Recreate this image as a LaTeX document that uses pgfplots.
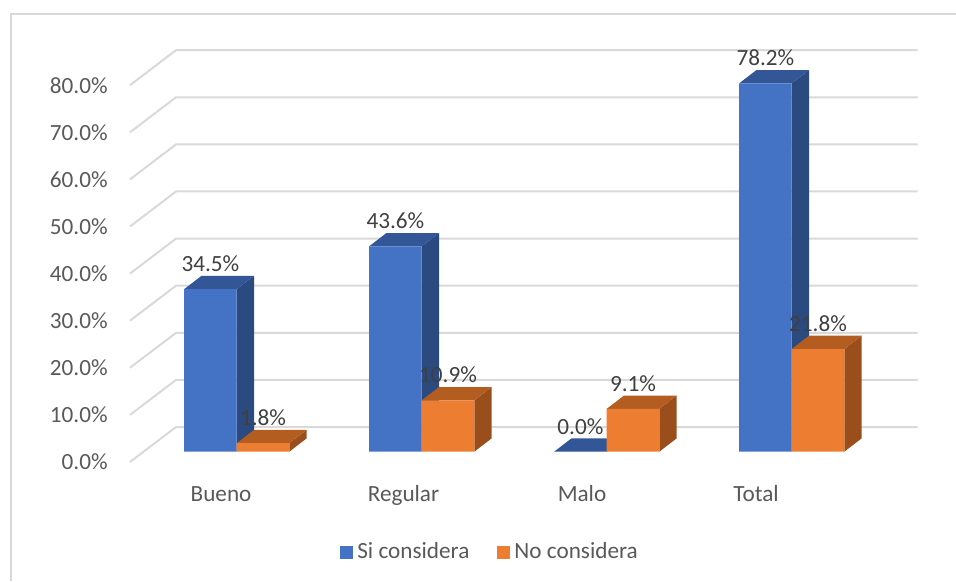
\documentclass[border=0pt]{standalone}
\usepackage{fontspec}
\setmainfont{Carlito}
\usepackage{pgfplots}
\usepackage{pgfplotstable}
\pgfplotsset{compat=1.18}

\definecolor{siFront}{HTML}{4472C4}
\definecolor{siTop}{HTML}{325696}
\definecolor{siSide}{HTML}{2B4A80}
\definecolor{noFront}{HTML}{ED7D31}
\definecolor{noTop}{HTML}{B45D20}
\definecolor{noSide}{HTML}{994E1C}
\definecolor{gridgray}{HTML}{D9D9D9}
\definecolor{ticktext}{HTML}{595959}
\definecolor{labeltext}{HTML}{404040}

\newcommand\chartfont{\fontsize{11.6}{14}\selectfont}

% porcentajes por categoria
\pgfplotstableread{
pos si no
0 34.5 1.8
1 43.6 10.9
2 0.0 9.1
3 78.2 21.8
}\datos

% geometria 3D (unidades del eje)
\def\bw{0.2843}
\def\dx{0.0935}
\def\dy{2.824}

% caras superior y lateral de una columna
\newcommand\caras[4]{%
  \pgfmathsetmacro\xl{#1}%
  \pgfmathsetmacro\xr{#1+\bw}%
  \pgfmathsetmacro\xa{#1+\dx}%
  \pgfmathsetmacro\xb{#1+\bw+\dx}%
  \pgfmathsetmacro\yt{#2+\dy}%
  \addplot[draw=none, fill=#4, forget plot] coordinates {(\xr,0) (\xb,\dy) (\xb,\yt) (\xr,#2)};
  \addplot[draw=none, fill=#3, forget plot] coordinates {(\xl,#2) (\xa,\yt) (\xb,\yt) (\xr,#2)};
}

% etiquetas de datos; #1 = desplazamiento horizontal
\pgfplotsset{
  etiquetas/.style={
    nodes near coords={\pgfmathprintnumber[fixed,fixed zerofill,precision=1,assume math mode=true]{\pgfplotspointmeta}\%},
    every node near coord/.append style={anchor=base, xshift=#1, yshift=8.75pt, text=labeltext, font=\chartfont, inner sep=0pt},
  },
}

\begin{document}
\begin{tikzpicture}
\begin{axis}[
    x=92.5pt, y=2.355pt,
    xmin=-1.2795, xmax=3.8881,
    ymin=-27.452, ymax=95.902,
    clip=false,
    axis line style={draw=none},
    tick style={draw=none},
    major tick length=0pt,
    ytick={-2.187,7.813,17.813,27.813,37.813,47.813,57.813,67.813,77.813},
    yticklabels={0.0\%,10.0\%,20.0\%,30.0\%,40.0\%,50.0\%,60.0\%,70.0\%,80.0\%},
    yticklabel style={anchor=east, inner sep=0pt, xshift=54pt, text=ticktext, font=\chartfont},
    xtick={-0.0847,0.9016,1.8665,2.807},
    xticklabels={Bueno,Regular,Malo,Total},
    xticklabel style={anchor=base, inner sep=0pt, yshift=39.65pt, text=ticktext, font=\chartfont},
    legend columns=2,
    legend style={at={(axis cs:0.558,-21.3)}, anchor=west, draw=none, fill=none,
      inner sep=0pt, font=\chartfont, text=ticktext,
      /tikz/every even column/.append style={column sep=12pt}},
]
% marco
\addplot[gridgray, line width=1pt, forget plot] coordinates {(-1.220,-27.452) (-1.220,92.87) (3.8881,92.87)};
% lineas de division
\pgfplotsinvokeforeach{0,10,...,80}{
  \pgfmathsetmacro\ya{#1-2.187}
  \pgfmathsetmacro\yb{#1+5.244}
  \addplot[gridgray, line width=1pt, forget plot] coordinates {(-0.5768,\ya) (-0.3281,\yb) (3.680,\yb)};
}
% Si considera
\pgfplotsinvokeforeach{0,1,2,3}{
  \pgfplotstablegetelem{#1}{si}\of\datos
  \let\val\pgfplotsretval
  \caras{#1-\bw}{\val}{siTop}{siSide}
}
\addplot[ybar, bar width=\bw, bar shift=-0.14215, fill=siFront, draw=none, etiquetas=-13.15pt,
  legend image code/.code={\fill[siFront] (0pt,-3.25pt) rectangle (6.5pt,3.25pt);}]
  table[x=pos, y=si]{\datos};
\addlegendentry{Si considera}
% No considera
\pgfplotsinvokeforeach{0,1,2,3}{
  \pgfplotstablegetelem{#1}{no}\of\datos
  \let\val\pgfplotsretval
  \caras{#1}{\val}{noTop}{noSide}
}
\addplot[ybar, bar width=\bw, bar shift=0.14215, fill=noFront, draw=none, etiquetas=13.15pt,
  legend image code/.code={\fill[noFront] (0pt,-3.25pt) rectangle (6.5pt,3.25pt);}]
  table[x=pos, y=no]{\datos};
\addlegendentry{No considera}
\end{axis}
\pgfresetboundingbox
\path[use as bounding box] (current axis.south west) rectangle (current axis.north east);
\end{tikzpicture}
\end{document}
